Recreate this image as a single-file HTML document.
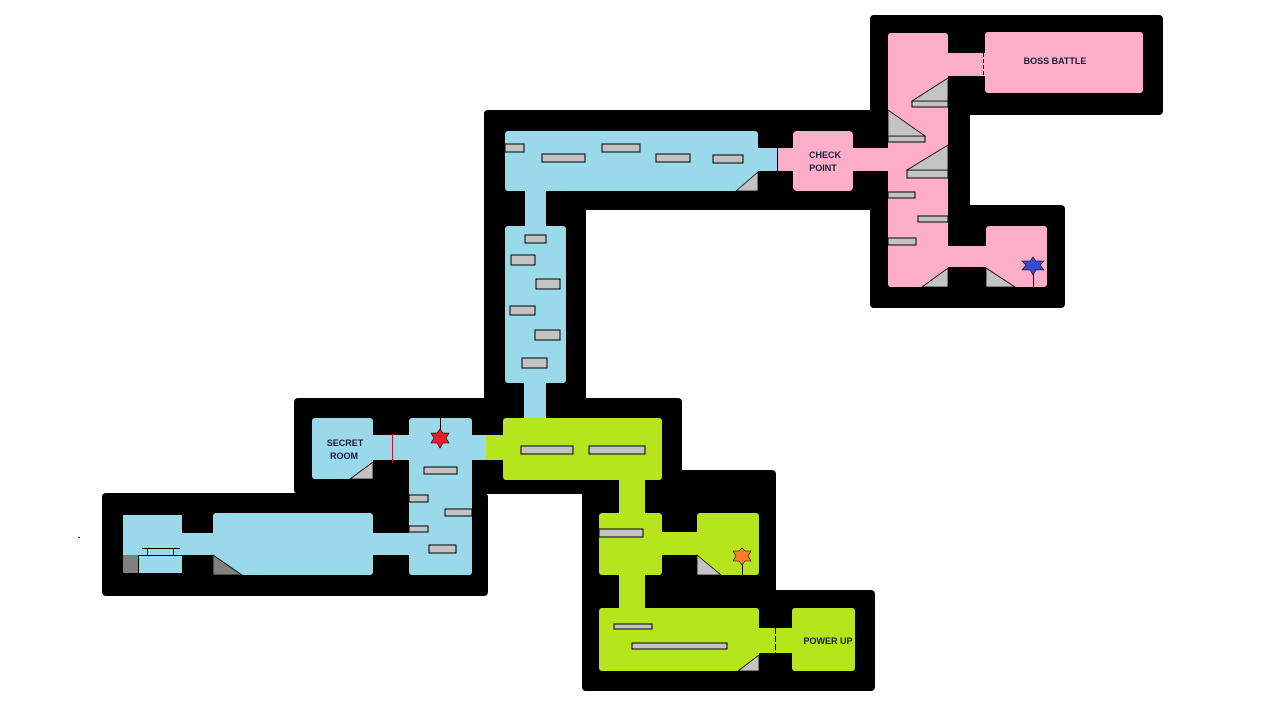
<!DOCTYPE html>
<html><head><meta charset="utf-8"><style>
html,body{margin:0;padding:0;background:#fff;}
svg{display:block}
text{font-family:"Liberation Sans",sans-serif;font-size:9px;font-weight:bold;fill:#1a1a3a}
</style></head><body>
<svg width="1280" height="720" viewBox="0 0 1280 720" xmlns="http://www.w3.org/2000/svg">
<!-- black walls -->
<g fill="#000">
<rect x="484" y="110" width="390" height="100" rx="4"/>
<rect x="484" y="110" width="102" height="295" rx="4"/>
<rect x="870" y="15" width="293" height="100" rx="4"/>
<rect x="870" y="15" width="100" height="293" rx="4"/>
<rect x="870" y="205" width="195" height="103" rx="4"/>
<rect x="294" y="398" width="388" height="96" rx="4"/>
<rect x="102" y="493" width="386" height="103" rx="4"/>
<rect x="582" y="470" width="194" height="221" rx="4"/>
<rect x="582" y="590" width="293" height="101" rx="4"/>
<rect x="78" y="537" width="2" height="1"/>
</g>
<!-- blue -->
<g fill="#99d9ea">
<rect x="505" y="131" width="253" height="60" rx="3"/>
<rect x="756" y="148" width="22" height="23"/>
<rect x="525" y="189" width="21" height="40"/>
<rect x="505" y="226" width="61" height="157" rx="3"/>
<rect x="524" y="381" width="22" height="39"/>
<rect x="312" y="418" width="61" height="61" rx="3"/>
<rect x="371" y="435" width="40" height="25"/>
<rect x="409" y="418" width="63" height="157" rx="3"/>
<rect x="470" y="435" width="17" height="25"/>
<rect x="213" y="513" width="160" height="62" rx="3"/>
<rect x="371" y="533" width="40" height="22"/>
<rect x="180" y="533" width="35" height="22"/>
<rect x="123" y="515" width="59" height="58"/>
</g>
<!-- pink -->
<g fill="#ffaec9">
<rect x="777" y="148" width="18" height="23"/>
<rect x="793" y="131" width="60" height="60" rx="4"/>
<rect x="851" y="148" width="39" height="23"/>
<rect x="888" y="33" width="60" height="254" rx="3"/>
<rect x="946" y="53" width="41" height="23"/>
<rect x="985" y="32" width="158" height="61" rx="3"/>
<rect x="946" y="246" width="42" height="21"/>
<rect x="986" y="226" width="61" height="61" rx="3"/>
</g>
<!-- green -->
<g fill="#b5e61d">
<rect x="486" y="435" width="19" height="25"/>
<rect x="503" y="418" width="159" height="62" rx="3"/>
<rect x="619" y="478" width="26" height="37"/>
<rect x="599" y="513" width="63" height="62" rx="3"/>
<rect x="660" y="532" width="39" height="23"/>
<rect x="697" y="513" width="62" height="62" rx="3"/>
<rect x="619" y="573" width="26" height="37"/>
<rect x="599" y="608" width="160" height="63" rx="3"/>
<rect x="757" y="628" width="37" height="25"/>
<rect x="792" y="608" width="63" height="63" rx="3"/>
</g>
<!-- gray platforms -->
<g fill="#c3c3c3" stroke="#000" stroke-width="1">
<rect x="505" y="144" width="19" height="8"/>
<rect x="542" y="154" width="43" height="8"/>
<rect x="602" y="144" width="38" height="8"/>
<rect x="656" y="154" width="34" height="8"/>
<rect x="713" y="155" width="30" height="8"/>
<rect x="525" y="235" width="21" height="8"/>
<rect x="511" y="255" width="24" height="10"/>
<rect x="536" y="279" width="24" height="10"/>
<rect x="510" y="306" width="25" height="9"/>
<rect x="535" y="330" width="25" height="10"/>
<rect x="522" y="358" width="25" height="10"/>
<rect x="912" y="101" width="36" height="6"/>
<rect x="888" y="136" width="37" height="6"/>
<rect x="907" y="170" width="41" height="8"/>
<rect x="888" y="192" width="27" height="6"/>
<rect x="918" y="216" width="30" height="6"/>
<rect x="888" y="238" width="28" height="7"/>
<rect x="424" y="467" width="33" height="7"/>
<rect x="409" y="495" width="19" height="7"/>
<rect x="445" y="509" width="27" height="7"/>
<rect x="409" y="526" width="19" height="6"/>
<rect x="429" y="545" width="27" height="8"/>
<rect x="521" y="446" width="52" height="8"/>
<rect x="589" y="446" width="56" height="8"/>
<rect x="599" y="529" width="44" height="8"/>
<rect x="614" y="624" width="38" height="5"/>
<rect x="632" y="643" width="95" height="6"/>
</g>
<!-- triangles -->
<g fill="#c3c3c3" stroke="#000" stroke-width="0.8">
<polygon points="736,191 758,172 758,191"/>
<polygon points="912,101 948,78 948,101"/>
<polygon points="888,110 925,136 888,136"/>
<polygon points="907,170 948,145 948,170"/>
<polygon points="922,287 948,268 948,287"/>
<polygon points="986,268 1015,287 986,287"/>
<polygon points="350,479 373,462 373,479"/>
<polygon points="697,555 721,575 697,575"/>
<polygon points="738,671 759,655 759,671"/>
</g>
<polygon points="213,555 242,575 213,575" fill="#7f7f7f" stroke="#000" stroke-width="0.8"/>
<rect x="123" y="555" width="15" height="18" fill="#7f7f7f"/>
<g stroke="#000" stroke-width="1" fill="none">
<line x1="138" y1="555.5" x2="182" y2="555.5"/>
<line x1="138.5" y1="555" x2="138.5" y2="573"/>
<line x1="142" y1="548.5" x2="180" y2="548.5"/>
<line x1="147.5" y1="548" x2="147.5" y2="555"/>
<line x1="173.5" y1="548" x2="173.5" y2="555"/>
<line x1="777.5" y1="148" x2="777.5" y2="171"/>
<line x1="983.5" y1="53" x2="983.5" y2="76" stroke-dasharray="4,2"/>
<line x1="775.5" y1="628" x2="775.5" y2="653" stroke-dasharray="6,2"/>
<line x1="440.5" y1="418" x2="440.5" y2="432"/>
<line x1="1033.5" y1="268" x2="1033.5" y2="287"/>
<line x1="742.5" y1="558" x2="742.5" y2="575"/>
</g>
<line x1="392.5" y1="434" x2="392.5" y2="463" stroke="#e01020" stroke-width="1"/>
<!-- stars -->
<polygon points="440,429 443,433 449,433 446,438 449,443 443,443 440,448 437,443 431,443 434,438 431,433 437,433" fill="#ed1c24" stroke="#000" stroke-width="0.6"/>
<polygon points="1033,257 1036,261 1044,261 1040,265 1044,270 1036,270 1033,275 1030,270 1022,270 1026,265 1022,261 1030,261" fill="#3f48cc" stroke="#000" stroke-width="0.6"/>
<polygon points="742,548 745,551 751,551 748,556 751,561 745,561 742,565 739,561 733,561 736,556 733,551 739,551" fill="#ff7f27" stroke="#000" stroke-width="0.6"/>
<!-- labels -->
<text x="825" y="158" text-anchor="middle">CHECK</text>
<text x="823" y="171" text-anchor="middle">POINT</text>
<text x="1055" y="64" text-anchor="middle">BOSS BATTLE</text>
<text x="345" y="446" text-anchor="middle">SECRET</text>
<text x="344" y="459" text-anchor="middle">ROOM</text>
<text x="828" y="644" text-anchor="middle">POWER UP</text>
</svg>
</body></html>
